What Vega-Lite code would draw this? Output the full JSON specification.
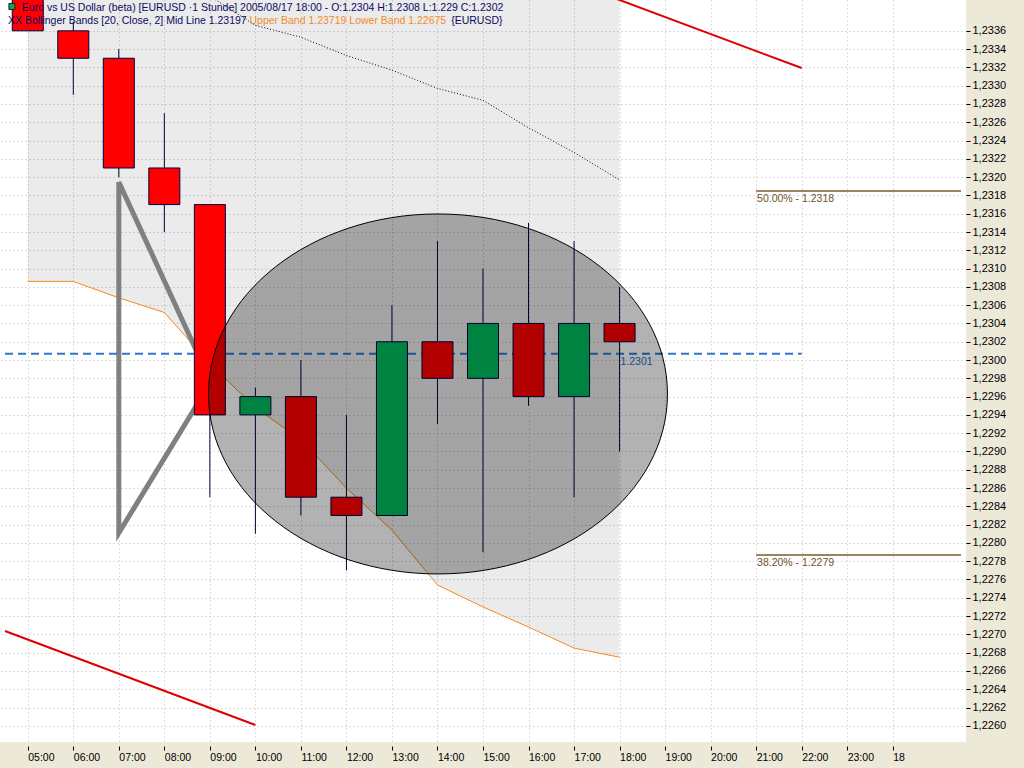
{
  "$schema": "https://vega.github.io/schema/vega-lite/v6.json",
  "width": 966,
  "height": 742,
  "autosize": {"type": "none"},
  "padding": {"left": 0, "top": 0, "right": 58, "bottom": 26},
  "background": "#ECE9D8",
  "view": {"fill": "#FFFFFF", "stroke": null},
  "config": {"font": "Liberation Sans"},
  "datasets": {
    "bands": [
      {"h": 5, "lower": 1.23086, "mid": 1.2346, "upper": 1.2383},
      {"h": 6, "lower": 1.23086, "mid": 1.2345, "upper": 1.2381},
      {"h": 7, "lower": 1.23068, "mid": 1.2344, "upper": 1.2381},
      {"h": 8, "lower": 1.23052, "mid": 1.2342, "upper": 1.2379},
      {"h": 9, "lower": 1.22996, "mid": 1.23398, "upper": 1.2380},
      {"h": 10, "lower": 1.22948, "mid": 1.23366, "upper": 1.2378},
      {"h": 11, "lower": 1.22913, "mid": 1.23353, "upper": 1.2379},
      {"h": 12, "lower": 1.2286, "mid": 1.23333, "upper": 1.2381},
      {"h": 13, "lower": 1.22814, "mid": 1.23317, "upper": 1.2382},
      {"h": 14, "lower": 1.22754, "mid": 1.23297, "upper": 1.2384},
      {"h": 15, "lower": 1.2273, "mid": 1.23284, "upper": 1.2384},
      {"h": 16, "lower": 1.22708, "mid": 1.23254, "upper": 1.238},
      {"h": 17, "lower": 1.22685, "mid": 1.23227, "upper": 1.2377},
      {"h": 18, "lower": 1.22675, "mid": 1.23197, "upper": 1.23719}
    ],
    "candles": [
      {"h": 5, "open": 1.2345, "high": 1.2347, "low": 1.2336, "close": 1.2336},
      {"h": 6, "open": 1.2336, "high": 1.2337, "low": 1.2329, "close": 1.2333},
      {"h": 7, "open": 1.2333, "high": 1.2334, "low": 1.232, "close": 1.2321},
      {"h": 8, "open": 1.2321, "high": 1.2327, "low": 1.2314, "close": 1.2317},
      {"h": 9, "open": 1.2317, "high": 1.2317, "low": 1.2285, "close": 1.2294},
      {"h": 10, "open": 1.2294, "high": 1.2297, "low": 1.2281, "close": 1.2296},
      {"h": 11, "open": 1.2296, "high": 1.23, "low": 1.2283, "close": 1.2285},
      {"h": 12, "open": 1.2285, "high": 1.2294, "low": 1.2277, "close": 1.2283},
      {"h": 13, "open": 1.2283, "high": 1.2306, "low": 1.2283, "close": 1.2302},
      {"h": 14, "open": 1.2302, "high": 1.2313, "low": 1.2293, "close": 1.2298},
      {"h": 15, "open": 1.2298, "high": 1.231, "low": 1.2279, "close": 1.2304},
      {"h": 16, "open": 1.2304, "high": 1.2315, "low": 1.2295, "close": 1.2296},
      {"h": 17, "open": 1.2296, "high": 1.2313, "low": 1.2285, "close": 1.2304},
      {"h": 18, "open": 1.2304, "high": 1.2308, "low": 1.229, "close": 1.2302}
    ],
    "drawings": [
      {"id": "redTop", "o": 0, "h": 17.5, "p": 1.23403},
      {"id": "redTop", "o": 1, "h": 22.0, "p": 1.233193},
      {"id": "redBottom", "o": 0, "h": 4.5, "p": 1.227037},
      {"id": "redBottom", "o": 1, "h": 10.0, "p": 1.226009},
      {"id": "tri", "o": 0, "h": 7.0, "p": 1.231947},
      {"id": "tri", "o": 1, "h": 9.02, "p": 1.22976},
      {"id": "tri", "o": 2, "h": 7.0, "p": 1.228109},
      {"id": "tri", "o": 3, "h": 7.0, "p": 1.231947},
      {"id": "blue", "o": 0, "h": 4.5, "p": 1.23007},
      {"id": "blue", "o": 1, "h": 22.0, "p": 1.23007},
      {"id": "fib50", "o": 0, "h": 21.0, "p": 1.231848},
      {"id": "fib50", "o": 1, "h": 25.5, "p": 1.231848},
      {"id": "fib38", "o": 0, "h": 21.0, "p": 1.227868},
      {"id": "fib38", "o": 1, "h": 25.5, "p": 1.227868}
    ]
  },
  "layer": [
    {
      "data": {"name": "bands"},
      "mark": {"type": "area", "fill": "#000000", "fillOpacity": 0.078, "clip": true},
      "encoding": {
        "x": {
          "field": "h", "type": "quantitative",
          "scale": {"domain": [4.5, 25.5], "nice": false, "zero": false},
          "axis": {
            "orient": "bottom", "title": null, "tickCount": 60, "values": [5,6,7,8,9,10,11,12,13,14,15,16,17,18,19,20,21,22,23,24],
            "labelExpr": "datum.value == 24 ? '18' : (datum.value < 10 ? '0' : '') + datum.value + ':00'",
            "labelAlign": "left", "labelBaseline": "top", "labelFontSize": 10.5, "labelColor": "#000000",
            "labelPadding": 2, "tickSize": 4, "tickColor": "#000000", "offset": 4, "domain": false,
            "grid": true, "gridColor": "#BBBBBB", "gridDash": [1, 3], "gridWidth": 1, "labelFlush": false, "labelOverlap": false
          }
        },
        "y": {
          "field": "lower", "type": "quantitative",
          "scale": {"domain": [1.225823, 1.233937], "nice": false, "zero": false},
          "axis": {
            "orient": "right", "title": null, "tickCount": 100,
            "values": [1.226,1.2262,1.2264,1.2266,1.2268,1.227,1.2272,1.2274,1.2276,1.2278,1.228,1.2282,1.2284,1.2286,1.2288,1.229,1.2292,1.2294,1.2296,1.2298,1.23,1.2302,1.2304,1.2306,1.2308,1.231,1.2312,1.2314,1.2316,1.2318,1.232,1.2322,1.2324,1.2326,1.2328,1.233,1.2332,1.2334,1.2336],
            "labelExpr": "replace(format(datum.value, '.4f'), '.', ',')",
            "labelAlign": "left", "labelBaseline": "middle", "labelFontSize": 11, "labelColor": "#000000",
            "labelPadding": 2, "tickSize": 4, "tickColor": "#000000", "domain": false,
            "grid": true, "gridColor": "#BBBBBB", "gridDash": [1, 3], "gridWidth": 1, "labelFlush": false, "labelOverlap": false
          }
        },
        "y2": {"field": "upper"}
      }
    },
    {
      "data": {"name": "bands"},
      "mark": {"type": "line", "color": "#F28A1E", "strokeWidth": 1, "clip": true},
      "encoding": {
        "x": {"field": "h", "type": "quantitative"},
        "y": {"field": "lower", "type": "quantitative"}
      }
    },
    {
      "data": {"name": "bands"},
      "mark": {"type": "line", "color": "#000030", "strokeWidth": 1, "strokeDash": [1, 2], "clip": true},
      "encoding": {
        "x": {"field": "h", "type": "quantitative"},
        "y": {"field": "mid", "type": "quantitative"}
      }
    },
    {
      "data": {"name": "drawings"},
      "transform": [{"filter": "datum.id == 'redTop' || datum.id == 'redBottom'"}],
      "mark": {"type": "line", "color": "#E00000", "strokeWidth": 2, "clip": true},
      "encoding": {
        "x": {"field": "h", "type": "quantitative"},
        "y": {"field": "p", "type": "quantitative"},
        "detail": {"field": "id"},
        "order": {"field": "o"}
      }
    },
    {
      "data": {"name": "drawings"},
      "transform": [{"filter": "datum.id == 'tri'"}],
      "mark": {"type": "line", "color": "#808080", "strokeWidth": 5, "strokeJoin": "miter", "clip": true},
      "encoding": {
        "x": {"field": "h", "type": "quantitative"},
        "y": {"field": "p", "type": "quantitative"},
        "order": {"field": "o"}
      }
    },
    {
      "data": {"name": "drawings"},
      "transform": [{"filter": "datum.id == 'blue'"}],
      "mark": {"type": "line", "color": "#2B78D0", "strokeWidth": 2, "strokeDash": [8, 5], "clip": true},
      "encoding": {
        "x": {"field": "h", "type": "quantitative"},
        "y": {"field": "p", "type": "quantitative"},
        "order": {"field": "o"}
      }
    },
    {
      "data": {"name": "drawings"},
      "transform": [{"filter": "datum.id == 'fib50' || datum.id == 'fib38'"}],
      "mark": {"type": "line", "color": "#7A5A2A", "strokeWidth": 1.5, "clip": true},
      "encoding": {
        "x": {"field": "h", "type": "quantitative"},
        "y": {"field": "p", "type": "quantitative"},
        "detail": {"field": "id"},
        "order": {"field": "o"}
      }
    },
    {
      "data": {"values": [{}]},
      "mark": {"type": "text", "text": "1.2301", "align": "left", "baseline": "middle", "fontSize": 10.5, "color": "#2B6CC4"},
      "encoding": {"x": {"datum": 18.02}, "y": {"datum": 1.229978}}
    },
    {
      "data": {"name": "candles"},
      "mark": {"type": "rule", "color": "#000040", "strokeWidth": 1, "clip": true},
      "encoding": {
        "x": {"field": "h", "type": "quantitative"},
        "y": {"field": "low", "type": "quantitative"},
        "y2": {"field": "high"}
      }
    },
    {
      "data": {"name": "candles"},
      "mark": {"type": "bar", "size": 31, "stroke": "#000040", "strokeWidth": 1, "clip": true},
      "encoding": {
        "x": {"field": "h", "type": "quantitative"},
        "y": {"field": "open", "type": "quantitative"},
        "y2": {"field": "close"},
        "color": {"condition": {"test": "datum.open > datum.close", "value": "#FF0000"}, "value": "#00BC5E"}
      }
    },
    {
      "data": {"values": [{}]},
      "mark": {
        "type": "point", "filled": true, "opacity": 1,
        "shape": "M-1,0C-1,-0.4332,-0.5523,-0.7843,0,-0.7843C0.5523,-0.7843,1,-0.4332,1,0C1,0.4332,0.5523,0.7843,0,0.7843C-0.5523,0.7843,-1,0.4332,-1,0Z",
        "size": 210681, "fill": "#000000", "fillOpacity": 0.3, "stroke": "#000000", "strokeOpacity": 1, "strokeWidth": 1
      },
      "encoding": {"x": {"datum": 14.011}, "y": {"datum": 1.229629}}
    },
    {
      "data": {"values": [{}]},
      "mark": {"type": "text", "text": "50.00% - 1.2318", "align": "left", "baseline": "middle", "fontSize": 10.5, "color": "#6E5428"},
      "encoding": {"x": {"datum": 21.02}, "y": {"datum": 1.231761}}
    },
    {
      "data": {"values": [{}]},
      "mark": {"type": "text", "text": "38.20% - 1.2279", "align": "left", "baseline": "middle", "fontSize": 10.5, "color": "#6E5428"},
      "encoding": {"x": {"datum": 21.02}, "y": {"datum": 1.227781}}
    },
    {
      "data": {"values": [{}]},
      "mark": {"type": "point", "shape": "square", "filled": true, "opacity": 1, "size": 36, "fill": "#1E9E5A", "stroke": "#0A2A1A", "strokeWidth": 1},
      "encoding": {"x": {"datum": 4.652}, "y": {"datum": 1.233866}}
    },
    {
      "data": {"values": [{}]},
      "mark": {"type": "text", "text": "Euro vs US Dollar (beta) [EURUSD ·1 Stunde] 2005/08/17 18:00 - O:1.2304 H:1.2308 L:1.229 C:1.2302", "align": "left", "baseline": "middle", "fontSize": 10.5, "color": "#0A0A64"},
      "encoding": {"x": {"datum": 4.87}, "y": {"datum": 1.23385}}
    },
    {
      "data": {"values": [{}]},
      "mark": {"type": "text", "text": "XX Bollinger Bands [20, Close, 2] Mid Line 1.23197", "align": "left", "baseline": "middle", "fontSize": 10.5, "color": "#0A0A64"},
      "encoding": {"x": {"datum": 4.5652}, "y": {"datum": 1.233707}}
    },
    {
      "data": {"values": [{}]},
      "mark": {"type": "text", "text": "Upper Band 1.23719 Lower Band 1.22675", "align": "left", "baseline": "middle", "fontSize": 10.5, "color": "#F08C28"},
      "encoding": {"x": {"datum": 9.87}, "y": {"datum": 1.233707}}
    },
    {
      "data": {"values": [{}]},
      "mark": {"type": "text", "text": "{EURUSD}", "align": "left", "baseline": "middle", "fontSize": 10.5, "color": "#0A0A64"},
      "encoding": {"x": {"datum": 14.3}, "y": {"datum": 1.233707}}
    }
  ]
}
